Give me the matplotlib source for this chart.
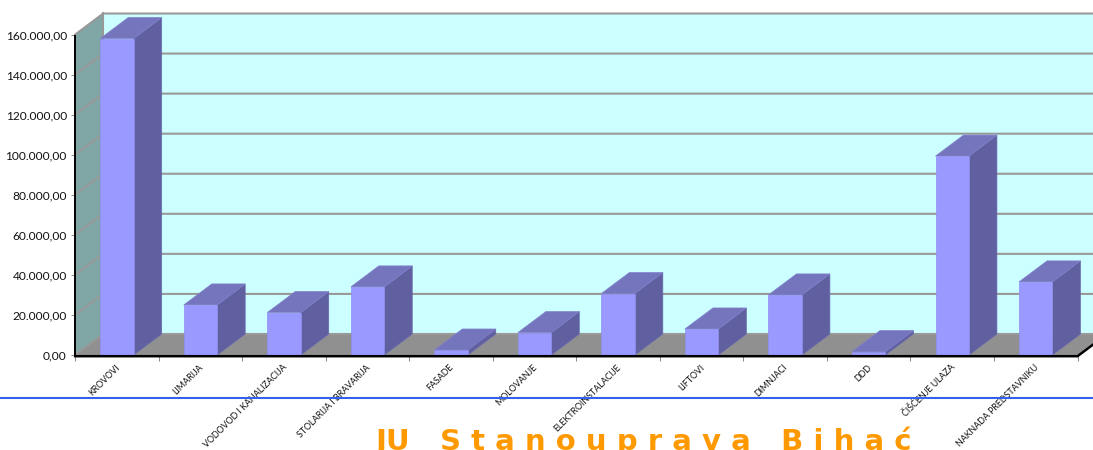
import matplotlib
matplotlib.use("Agg")
import matplotlib.pyplot as plt
from matplotlib.lines import Line2D
from matplotlib.transforms import offset_copy

categories = ["KROVOVI", "LIMARIJA", "VODOVOD I KANALIZACIJA", "STOLARIJA I BRAVARIJA",
              "FASADE", "MOLOVANJE", "ELEKTROINSTALACIJE", "LIFTOVI", "DIMNJACI", "DDD",
              "ČIŠĆENJE ULAZA", "NAKNADA PREDSTAVNIKU"]
values = [158000, 25000, 21200, 34000, 2500, 11200, 30700, 13000, 30000, 1700, 99300, 36500]
yticks = [0, 20000, 40000, 60000, 80000, 100000, 120000, 140000, 160000]
ylabels = ["0,00", "20.000,00", "40.000,00", "60.000,00", "80.000,00",
           "100.000,00", "120.000,00", "140.000,00", "160.000,00"]
title = "JU   S t a n o u p r a v a   B i h a ć"

W, H = 1093, 450
plt.rcParams["font.family"] = ["Lato", "DejaVu Sans"]
fig = plt.figure(figsize=(W / 100, H / 100), dpi=100)
ax = fig.add_axes([75.2 / W, (H - 355) / H, 1002.3 / W, 320.5 / H])
ax.set_xlim(0, 12)
ax.set_ylim(0, 160000)
ax.patch.set_visible(False)

DX = 28 / 83.5      # depth offset, category units
DY = 21 / 2.003 * 1000  # depth offset, value units
BW = 0.40

GREY = "#999999"
ax.fill([DX, 12 + DX + 1, 12 + DX + 1, DX], [DY, DY, 160000 + DY, 160000 + DY],
        color="#ccffff", lw=0, clip_on=False, zorder=1)
ax.fill([0, DX, DX, 0], [0, DY, 160000 + DY, 160000], color="#80a6a6", lw=0, clip_on=False, zorder=1)
ax.fill([0, 12, 12 + DX, DX], [0, 0, DY, DY], color="#909090", lw=0, clip_on=False, zorder=1)
for t in yticks:
    ax.plot([0, DX, 12 + DX + 1], [t, t + DY, t + DY], color=GREY, lw=1.5, clip_on=False, zorder=2,
            solid_joinstyle="miter")
ax.plot([DX, DX], [DY, 160000 + DY], color=GREY, lw=1.5, clip_on=False, zorder=2)

for i, v in enumerate(values):
    x0 = i + 0.5 - BW / 2
    x1 = i + 0.5 + BW / 2
    ax.fill([x1, x1 + DX, x1 + DX, x1], [0, DY, v + DY, v], facecolor="#6060a0",
            edgecolor="#6a6ab0", lw=0.5, clip_on=False, zorder=3)
    ax.fill([x0, x1, x1 + DX, x0 + DX], [v, v, v + DY, v + DY], facecolor="#7575bd",
            edgecolor="#8080cc", lw=0.5, clip_on=False, zorder=3)
    ax.fill([x0, x1, x1, x0], [0, 0, v, v], facecolor="#9999ff",
            edgecolor="#8f8ff0", lw=0.5, clip_on=False, zorder=4)

below = offset_copy(ax.transData, fig=fig, x=0, y=-1.2, units="dots")
ax.plot([0, 0], [0, 160000], color="black", lw=1.4, clip_on=False, zorder=5, transform=below)
ax.plot([0, 12, 12 + DX], [0, 0, DY], color="black", lw=1.8, clip_on=False, zorder=5,
        solid_joinstyle="miter", transform=below)

for s in ax.spines.values():
    s.set_visible(False)
ax.set_yticks(yticks)
ax.set_yticklabels(ylabels, fontsize=8.6, color="#111111")
ax.set_xticks(range(13))
ax.set_xticklabels([])
ax.tick_params(axis="y", length=3, width=0.7, color="#888888", pad=3)
ax.tick_params(axis="x", length=4, width=0.7, color="#888888", pad=0)

blue = Line2D([0, 1], [1 - 398 / H, 1 - 398 / H], transform=fig.transFigure, color="#2f62f0",
              lw=1.5, zorder=1)
fig.add_artist(blue)

for i, c in enumerate(categories):
    ax.annotate(c, xy=(i + 0.5, 0), xycoords=("data", "axes fraction"), xytext=(1, -8),
                textcoords="offset points", rotation=45, rotation_mode="anchor",
                ha="right", va="center", fontsize=6.4, color="#111111", zorder=10,
                annotation_clip=False)

fig.text(376 / W, 1 - 450 / H, title, family="DejaVu Sans", fontweight="bold", fontsize=21,
         color="#ff9900", ha="left", va="baseline")

fig.savefig("out.png", dpi=100)
